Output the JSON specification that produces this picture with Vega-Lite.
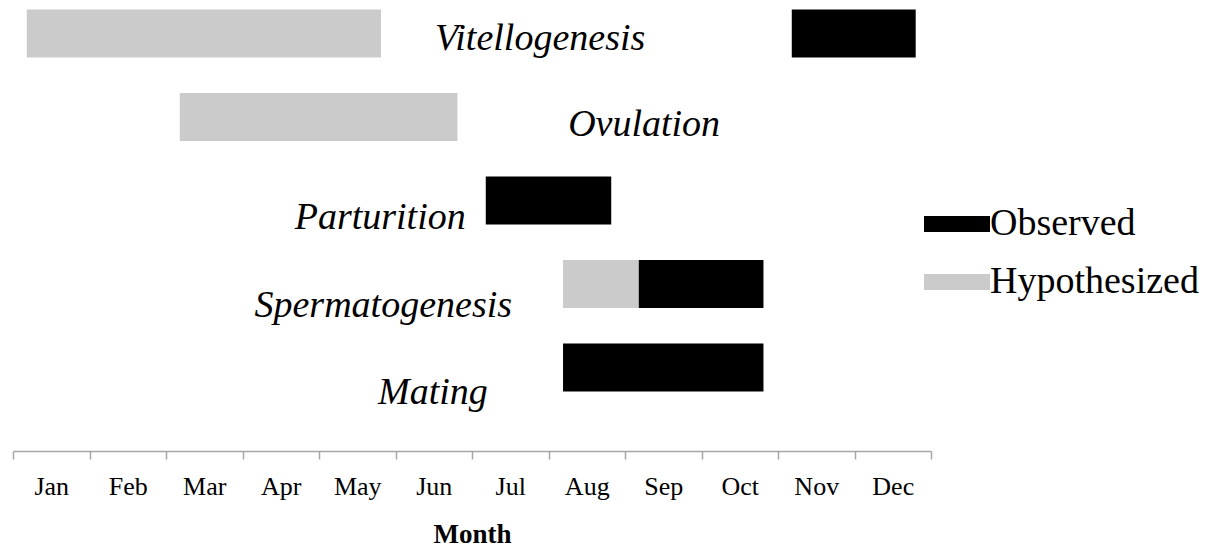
{
  "$schema": "https://vega.github.io/schema/vega-lite/v6.json",
  "width": 918,
  "height": 451,
  "autosize": "none",
  "padding": {"left": 13, "top": 0, "right": 297, "bottom": 99},
  "background": "white",
  "config": {"view": {"stroke": null}},
  "datasets": {
    "bars": [
      {"activity": "Vitellogenesis", "row": 5, "start": 0.18, "end": 4.81, "status": "Hypothesized"},
      {"activity": "Vitellogenesis", "row": 5, "start": 10.18, "end": 11.8, "status": "Observed"},
      {"activity": "Ovulation", "row": 4, "start": 2.18, "end": 5.81, "status": "Hypothesized"},
      {"activity": "Parturition", "row": 3, "start": 6.18, "end": 7.82, "status": "Observed"},
      {"activity": "Spermatogenesis", "row": 2, "start": 7.19, "end": 8.18, "status": "Hypothesized"},
      {"activity": "Spermatogenesis", "row": 2, "start": 8.18, "end": 9.81, "status": "Observed"},
      {"activity": "Mating", "row": 1, "start": 7.19, "end": 9.81, "status": "Observed"}
    ],
    "labels": [
      {"activity": "Vitellogenesis", "lx": 6.89, "ly": 4.8},
      {"activity": "Ovulation", "lx": 8.25, "ly": 3.77},
      {"activity": "Parturition", "lx": 4.8, "ly": 2.66},
      {"activity": "Spermatogenesis", "lx": 4.84, "ly": 1.6},
      {"activity": "Mating", "lx": 5.49, "ly": 0.56}
    ]
  },
  "layer": [
    {
      "data": {"name": "bars"},
      "mark": {"type": "bar", "height": 48, "orient": "horizontal"},
      "encoding": {
        "x": {
          "field": "start", "type": "quantitative", "title": "Month",
          "scale": {"domain": [0, 12], "nice": false, "zero": false, "padding": 0},
          "axis": {
            "values": [0, 1, 2, 3, 4, 5, 6, 7, 8, 9, 10, 11, 12],
            "labelExpr": "datum.value < 12 ? ['Jan','Feb','Mar','Apr','May','Jun','Jul','Aug','Sep','Oct','Nov','Dec'][datum.value] : ''",
            "labelOffset": 38.25,
            "labelOverlap": false,
            "labelFlush": false,
            "tickSize": 8,
            "tickWidth": 1.5,
            "tickColor": "#a6a6a6",
            "domainColor": "#a6a6a6",
            "domainWidth": 1.5,
            "grid": false,
            "labelFont": "Liberation Serif",
            "labelFontSize": 26,
            "labelColor": "black",
            "labelBaseline": "alphabetic",
            "labelPadding": 35,
            "titleFont": "Liberation Serif",
            "titleFontSize": 27,
            "titleFontWeight": "bold",
            "titleColor": "black",
            "titleBaseline": "alphabetic",
            "titleY": 91
          }
        },
        "x2": {"field": "end"},
        "y": {
          "field": "row", "type": "quantitative", "axis": null,
          "scale": {"domain": [0, 5.4], "nice": false, "zero": false, "padding": 0}
        },
        "color": {
          "field": "status", "type": "nominal",
          "scale": {"domain": ["Observed", "Hypothesized"], "range": ["#000000", "#cbcbcb"]},
          "legend": {
            "orient": "none",
            "legendX": 911,
            "legendY": 191,
            "title": null,
            "symbolType": "M-1,-0.242H1V0.242H-1Z",
            "symbolSize": 4356,
            "symbolStrokeWidth": 0,
            "symbolOpacity": 1,
            "labelFont": "Liberation Serif",
            "labelFontSize": 38,
            "labelColor": "black",
            "labelOffset": 0,
            "labelLimit": 400,
            "rowPadding": 6,
            "padding": 0
          }
        }
      }
    },
    {
      "data": {"name": "labels"},
      "mark": {"type": "text", "font": "Liberation Serif", "fontStyle": "italic", "fontSize": 38, "align": "center", "baseline": "alphabetic", "color": "black"},
      "encoding": {
        "x": {"field": "lx", "type": "quantitative", "title": "Month"},
        "y": {"field": "ly", "type": "quantitative"},
        "text": {"field": "activity", "type": "nominal"}
      }
    }
  ]
}
